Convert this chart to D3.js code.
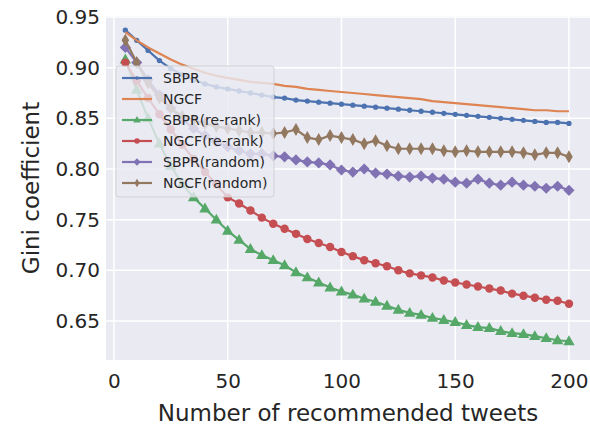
<!DOCTYPE html>
<html>
<head>
<meta charset="utf-8">
<script src="https://cdn.jsdelivr.net/npm/d3@7"></script>
<style>
  body { margin: 0; background: #fff; }
  text { font-family: "DejaVu Sans", sans-serif; fill: #262626; }
</style>
</head>
<body>
<div id="chart"></div>
<script>
// number of recommended tweets (x)
var tweets = [5, 10, 15, 20, 25, 30, 35, 40, 45, 50, 55, 60, 65, 70, 75, 80, 85, 90, 95, 100,
              105, 110, 115, 120, 125, 130, 135, 140, 145, 150, 155, 160, 165, 170, 175, 180, 185, 190, 195, 200];

var sbpr = [0.937, 0.927, 0.917, 0.907, 0.899, 0.893, 0.888, 0.884, 0.881, 0.879, 0.877, 0.875, 0.873, 0.871, 0.870, 0.868, 0.867, 0.866, 0.865, 0.864,
            0.863, 0.862, 0.861, 0.860, 0.859, 0.858, 0.857, 0.856, 0.855, 0.854, 0.853, 0.852, 0.851, 0.850, 0.849, 0.848, 0.847, 0.846, 0.846, 0.845];
var ngcf = [0.935, 0.927, 0.920, 0.914, 0.908, 0.903, 0.899, 0.895, 0.892, 0.890, 0.888, 0.886, 0.885, 0.884, 0.882, 0.881, 0.879, 0.878, 0.877, 0.876,
            0.875, 0.874, 0.873, 0.872, 0.871, 0.870, 0.869, 0.867, 0.866, 0.865, 0.864, 0.863, 0.862, 0.861, 0.860, 0.859, 0.858, 0.858, 0.857, 0.857];
var sbprRerank = [0.908, 0.878, 0.850, 0.825, 0.803, 0.785, 0.772, 0.761, 0.750, 0.739, 0.730, 0.721, 0.715, 0.710, 0.705, 0.698, 0.693, 0.688, 0.683, 0.679,
                  0.676, 0.672, 0.669, 0.665, 0.661, 0.658, 0.656, 0.653, 0.651, 0.649, 0.646, 0.644, 0.643, 0.640, 0.638, 0.637, 0.635, 0.633, 0.631, 0.630];
var ngcfRerank = [0.905, 0.887, 0.870, 0.854, 0.839, 0.824, 0.810, 0.797, 0.785, 0.772, 0.766, 0.759, 0.752, 0.746, 0.741, 0.736, 0.731, 0.727, 0.723, 0.718,
                  0.714, 0.710, 0.707, 0.704, 0.700, 0.697, 0.695, 0.693, 0.690, 0.688, 0.686, 0.684, 0.682, 0.680, 0.677, 0.675, 0.673, 0.671, 0.670, 0.667];
var sbprRandom = [0.920, 0.905, 0.888, 0.873, 0.860, 0.849, 0.840, 0.833, 0.827, 0.822, 0.818, 0.815, 0.815, 0.813, 0.812, 0.809, 0.807, 0.806, 0.804, 0.799,
                  0.797, 0.800, 0.796, 0.795, 0.793, 0.792, 0.793, 0.791, 0.790, 0.787, 0.786, 0.790, 0.786, 0.784, 0.787, 0.784, 0.783, 0.781, 0.783, 0.779];
var ngcfRandom = [0.927, 0.905, 0.885, 0.870, 0.860, 0.852, 0.848, 0.845, 0.842, 0.840, 0.838, 0.836, 0.836, 0.835, 0.836, 0.839, 0.831, 0.829, 0.833, 0.831,
                  0.829, 0.825, 0.828, 0.823, 0.820, 0.820, 0.820, 0.820, 0.818, 0.817, 0.818, 0.817, 0.817, 0.817, 0.817, 0.816, 0.814, 0.816, 0.816, 0.812];

var seriesNames = ["SBPR", "NGCF", "SBPR(re-rank)", "NGCF(re-rank)", "SBPR(random)", "NGCF(random)"];
var seriesValues = [sbpr, ngcf, sbprRerank, ngcfRerank, sbprRandom, ngcfRandom];

var xTicks = [0, 50, 100, 150, 200];
var yTicks = [0.65, 0.70, 0.75, 0.80, 0.85, 0.90, 0.95];

// seaborn "deep" palette + marker for each series
var colors = ["#4c72b0", "#dd8452", "#55a868", "#c44e52", "#8172b3", "#937860"];
var markers = ["point", "none", "triangle", "circle", "diamond", "thin"];

var W = 590, H = 430;
var margin = { top: 16, right: 0, bottom: 70, left: 106 };
var width = W - margin.left - margin.right,
    height = H - margin.top - margin.bottom;

var svg = d3.select("#chart").append("svg")
    .attr("width", W)
    .attr("height", H);

var g = svg.append("g")
    .attr("transform", "translate(" + margin.left + "," + margin.top + ")");

var x = d3.scaleLinear().domain([-3.5, 209.25]).range([0, width]);
var y = d3.scaleLinear().domain([0.6115, 0.951]).range([height, 0]);

// background panel
g.append("rect")
    .attr("width", width)
    .attr("height", height)
    .attr("fill", "#eaeaf2");

// grid
g.selectAll(".xgrid").data(xTicks).enter().append("line")
    .attr("x1", d => x(d)).attr("x2", d => x(d))
    .attr("y1", 0).attr("y2", height)
    .attr("stroke", "#fff").attr("stroke-width", 1.5);

g.selectAll(".ygrid").data(yTicks).enter().append("line")
    .attr("x1", 0).attr("x2", width)
    .attr("y1", d => y(d)).attr("y2", d => y(d))
    .attr("stroke", "#fff").attr("stroke-width", 1.5);

// axes (no tick lines, seaborn darkgrid style)
var xAxis = d3.axisBottom(x).tickValues(xTicks).tickSize(0).tickPadding(14);
var yAxis = d3.axisLeft(y).tickValues(yTicks).tickSize(0).tickPadding(6).tickFormat(d3.format(".2f"));

g.append("g")
    .attr("transform", "translate(0," + height + ")")
    .call(xAxis)
    .call(a => a.select(".domain").remove())
    .selectAll("text")
    .style("font-size", "20px")
    .attr("fill", "#262626");

g.append("g")
    .call(yAxis)
    .call(a => a.select(".domain").remove())
    .selectAll("text")
    .style("font-size", "20px")
    .attr("fill", "#262626");

// axis titles
svg.append("text")
    .attr("x", margin.left + width / 2)
    .attr("y", 421)
    .attr("text-anchor", "middle")
    .style("font-size", "23px")
    .text("Number of recommended tweets");

svg.append("text")
    .attr("transform", "translate(39," + (margin.top + height / 2) + ") rotate(-90)")
    .attr("text-anchor", "middle")
    .style("font-size", "23px")
    .text("Gini coefficient");

// marker paths
function markerPath(type, s) {
    if (type == "point") return d3.symbol().type(d3.symbolCircle).size(22 * s * s)();
    if (type == "circle") return d3.symbol().type(d3.symbolCircle).size(56 * s * s)();
    if (type == "triangle") {
        var r = 6 * s;
        return "M0," + (-r) + "L" + (r * 0.95) + "," + (r * 0.65) + "L" + (-r * 0.95) + "," + (r * 0.65) + "Z";
    }
    if (type == "diamond") {
        var r = 5.6 * s;
        return "M0," + (-r) + "L" + r + ",0L0," + r + "L" + (-r) + ",0Z";
    }
    if (type == "thin") {
        var rx = 3.8 * s, ry = 6.5 * s;
        return "M0," + (-ry) + "L" + rx + ",0L0," + ry + "L" + (-rx) + ",0Z";
    }
    return null;
}

var line = d3.line()
    .x((d, i) => x(tweets[i]))
    .y(d => y(d));

var plot = g.append("g");

seriesValues.forEach(function(vals, k) {
    var sg = plot.append("g");
    sg.append("path")
        .datum(vals)
        .attr("fill", "none")
        .attr("stroke", colors[k])
        .attr("stroke-width", 2.2)
        .attr("stroke-linejoin", "round")
        .attr("d", line);

    if (markers[k] != "none") {
        sg.selectAll(".m").data(vals).enter().append("path")
            .attr("transform", (d, i) => "translate(" + x(tweets[i]) + "," + y(d) + ")")
            .attr("d", markerPath(markers[k], 1))
            .attr("fill", colors[k]);
    }
});

// legend
var legend = g.append("g").attr("transform", "translate(10,50)");

legend.append("rect")
    .attr("width", 158)
    .attr("height", 131)
    .attr("rx", 3)
    .attr("fill", "#eaeaf2")
    .attr("fill-opacity", 0.8)
    .attr("stroke", "#cccccc")
    .attr("stroke-opacity", 0.8);

seriesNames.forEach(function(name, k) {
    var ly = 12 + k * 21;
    var row = legend.append("g").attr("transform", "translate(0," + ly + ")");
    row.append("line")
        .attr("x1", 6).attr("x2", 36)
        .attr("stroke", colors[k])
        .attr("stroke-width", 2.2);
    if (markers[k] != "none") {
        row.append("path")
            .attr("transform", "translate(21,0)")
            .attr("d", markerPath(markers[k], 0.65))
            .attr("fill", colors[k]);
    }
    row.append("text")
        .attr("x", 47)
        .attr("dy", "0.35em")
        .style("font-size", "14px")
        .text(name);
});
</script>
</body>
</html>
